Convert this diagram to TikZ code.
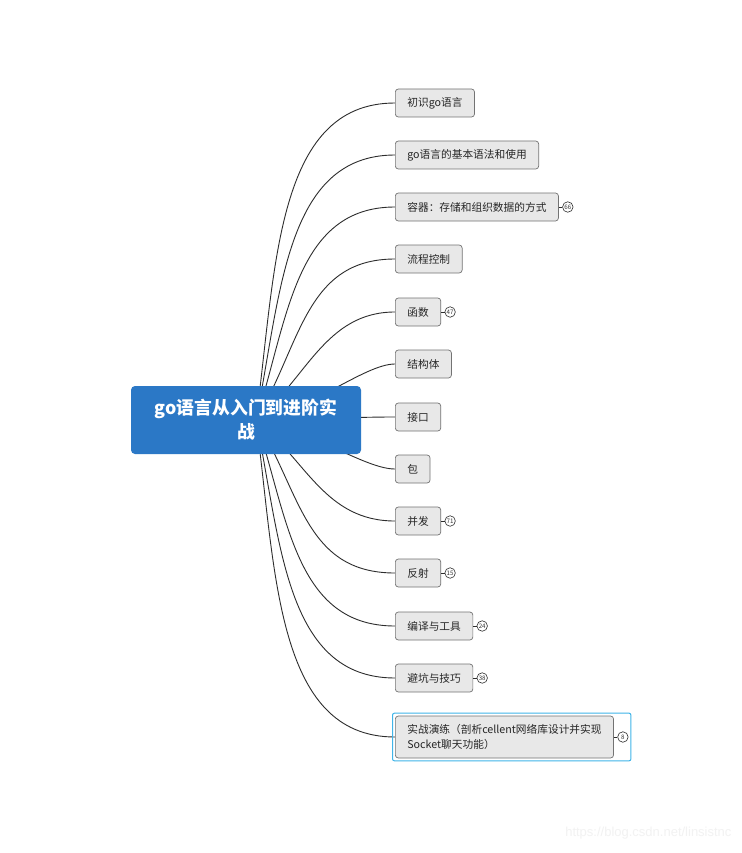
\documentclass[tikz,border=0pt]{standalone}
\usepackage{fontspec}
\setmainfont{Noto Sans CJK SC}
\newfontfamily\wmfont{Liberation Sans}
\usetikzlibrary{backgrounds,fit}
\definecolor{rootblue}{RGB}{43,120,198}
\definecolor{selblue}{RGB}{64,180,232}
\definecolor{topicfill}{RGB}{232,232,232}
\definecolor{topicline}{RGB}{115,115,115}
\definecolor{linecol}{RGB}{45,45,45}
\begin{document}
\begin{tikzpicture}[x=1pt,y=-1pt,
  conn/.style={draw=linecol, line width=0.9pt},
  stub/.style={draw=linecol, line width=0.6pt},
  topic/.style={draw=topicline, fill=topicfill, rounded corners=3pt, line width=0.7pt,
    minimum height=28pt, inner xsep=12pt, inner ysep=0pt,
    font=\fontsize{10.7}{15}\selectfont, text=black!85, anchor=west},
  badge/.style={draw=linecol, circle, minimum size=10.5pt, inner sep=0pt, line width=0.6pt,
    font=\fontsize{6.2}{6.2}\selectfont, text=black!80},
  rootbox/.style={fill=rootblue, rounded corners=4pt, minimum width=230pt, minimum height=68pt,
    align=center, text=white, font=\bfseries\fontsize{17.8}{24}\selectfont}]
\useasboundingbox (0,0) rectangle (741,853);

\node[rootbox] (root) at (246,420) {go语言从入门到进阶实\\战};
\coordinate (hub) at ([xshift=10pt]root.center);

\node[topic] (c1) at (395,103) {初识go语言};
\node[topic] (c2) at (395,155) {go语言的基本语法和使用};
\node[topic] (c3) at (395,207) {容器：存储和组织数据的方式};
\node[topic] (c4) at (395,259) {流程控制};
\node[topic] (c5) at (395,312) {函数};
\node[topic] (c6) at (395,364) {结构体};
\node[topic] (c7) at (395,417) {接口};
\node[topic] (c8) at (395,469) {包};
\node[topic] (c9) at (395,521) {并发};
\node[topic] (c10) at (395,573) {反射};
\node[topic] (c11) at (395,626) {编译与工具};
\node[topic] (c12) at (395,678) {避坑与技巧};
\node[topic, align=left, minimum height=42pt] (c13) at (395,737) {实战演练（剖析cellent网络库设计并实现\\Socket聊天功能）};

\foreach \n/\t in {c3/66, c5/47, c9/71, c10/15, c11/24, c12/38, c13/8}{
  \node[badge] (b\n) at ([xshift=9pt]\n.east) {\t};
  \draw[stub] (\n.east) -- (b\n.west);
}

\node[draw=selblue, line width=1pt, rounded corners=2pt, inner sep=2.5pt, fit=(c13)(bc13)] (sel) {};

\node[text=black!5, font=\wmfont\fontsize{13}{13}\selectfont, anchor=east] (wm) at (735,833) {https://blog.csdn.net/linsistnc};

\begin{pgfonlayer}{background}
\fill[white] (0,0) rectangle (741,853);
\foreach \n/\a/\b/\c in {c1/20/-150/120, c2/25/-125/110, c3/32/-100/100, c4/45/-75/90,
    c5/50/-40/70, c6/55/-10/30, c7/50/0/50, c8/55/10/30, c9/50/40/70,
    c10/45/72/90, c11/32/97/100, c12/25/121/110, c13/20/150/120}{
  \draw[conn] (hub) .. controls +(\a,\b) and +(-\c,0) .. (\n.west);
}
\end{pgfonlayer}
\end{tikzpicture}
\end{document}
